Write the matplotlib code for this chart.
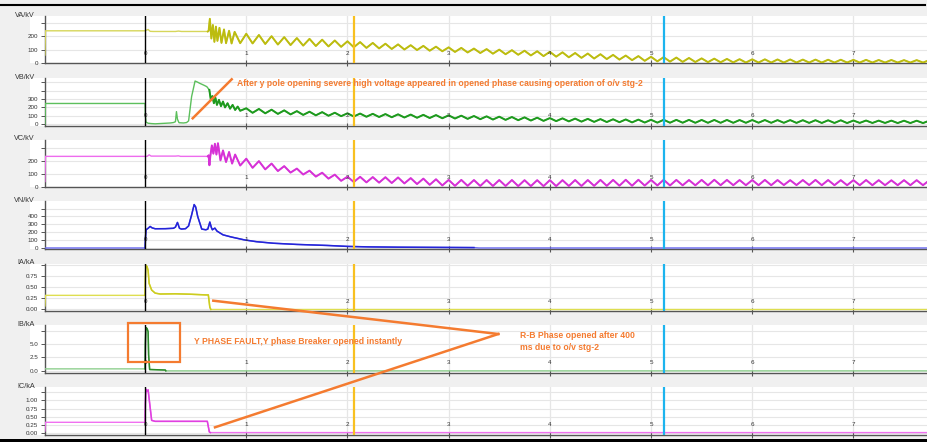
import numpy as np
import matplotlib
matplotlib.use("Agg")
import matplotlib.pyplot as plt
from matplotlib.lines import Line2D
from matplotlib.patches import Rectangle

plt.rcParams["font.family"] = ["Liberation Sans", "DejaVu Sans"]

W, H = 928, 442

# ---- data (time in the recorder's units) ----
# transient part: explicit samples
VA_T = [-0.99, -0.985, 0.0, 0.03, 0.05, 0.08, 0.30, 0.33, 0.36, 0.62, 0.628, 0.64, 0.655,
        0.67, 0.685, 0.70, 0.715, 0.735, 0.755, 0.78, 0.80, 0.83, 0.855, 0.885, 0.94]
VA_V = [60, 240, 240, 250, 236, 235, 235, 238, 235, 235, 240, 329, 183,
        283, 158, 271, 165, 262, 150, 250, 148, 240, 146, 232, 148]

VB_T = [-0.99, -0.985, 0.0, 0.003, 0.01, 0.03, 0.06, 0.10, 0.15, 0.20, 0.25, 0.28, 0.30,
        0.31, 0.32, 0.335, 0.38, 0.41, 0.43, 0.46, 0.494, 0.52, 0.54, 0.58, 0.61, 0.635,
        0.65, 0.665, 0.68, 0.695, 0.71, 0.73, 0.75, 0.77, 0.79, 0.815, 0.84, 0.865, 0.89,
        0.915, 0.94]
VB_V = [0, 247, 247, 100, 25, 12, 8, 5, 8, 10, 15, 20, 30,
        150, 60, 18, 15, 20, 40, 330, 514, 500, 487, 465, 447, 408,
        290, 335, 250, 315, 230, 290, 215, 270, 200, 250, 185, 230, 170,
        210, 160]

VC_T = [-0.99, -0.985, 0.0, 0.02, 0.04, 0.06, 0.30, 0.33, 0.35, 0.62, 0.628, 0.636, 0.645,
        0.66, 0.675, 0.69, 0.705, 0.72, 0.745, 0.77, 0.80, 0.83, 0.86, 0.89, 0.94]
VC_V = [40, 236, 236, 236, 248, 238, 238, 240, 236, 236, 244, 167, 240,
        321, 257, 334, 250, 338, 205, 282, 192, 270, 180, 250, 165]

# steady oscillation after t = 1: peaks every 0.125, troughs in between
TAIL_START, HALF = 1.0, 0.0625
VA_PK = [218, 209, 200, 193, 186, 180, 174, 168,
         162, 156, 150, 144, 139, 133, 128, 122,
         117, 113, 108, 104, 100, 96, 92, 88,
         84, 80, 75, 71, 66, 61, 56, 52,
         47, 44, 41, 38, 35, 33, 31, 29,
         28, 28, 27, 27, 26, 26, 25, 25,
         24, 24, 23, 23, 22, 22, 22]
VA_TR = [146, 142, 138, 134, 130, 127, 124, 121,
         118, 113, 109, 105, 101, 97, 92, 88,
         83, 79, 75, 70, 66, 62, 57, 52,
         48, 43, 39, 34, 30, 26, 22, 17,
         13, 11, 9, 8, 7, 6, 5, 4,
         4, 4, 4, 4, 4, 4, 4, 4,
         4, 4, 4, 4, 4, 4]
VB_PK = [190, 182, 173, 165, 156, 149, 144, 137,
         130, 127, 124, 121, 118, 115, 112, 109,
         106, 102, 98, 94, 90, 86, 82, 78,
         73, 70, 67, 64, 61, 59, 57, 55,
         53, 53, 52, 52, 51, 51, 51, 50,
         50, 50, 49, 49, 48, 48, 47, 47,
         44, 44, 43, 43, 42, 42, 42]
VB_TR = [136, 130, 123, 117, 111, 106, 101, 96,
         92, 89, 86, 83, 80, 77, 74, 71,
         68, 64, 60, 56, 52, 48, 44, 40,
         37, 34, 31, 28, 26, 24, 22, 20,
         19, 18, 18, 17, 17, 17, 17, 17,
         18, 17, 17, 16, 16, 15, 15, 14,
         16, 15, 15, 14, 14, 14]
VC_PK = [218, 199, 180, 160, 141, 125, 109, 94,
         78, 77, 75, 74, 72, 67, 63, 58,
         53, 53, 52, 52, 52, 52, 51, 51,
         51, 51, 52, 52, 53, 53, 54, 54,
         53, 54, 53, 52, 53, 54, 53, 52,
         52, 53, 52, 51, 52, 53, 52, 51,
         51, 52, 51, 50, 51, 51, 50]
VC_TR = [147, 135, 122, 110, 95, 79, 63, 46,
         37, 34, 32, 29, 26, 21, 15, 10,
         7, 7, 6, 6, 6, 5, 5, 5,
         5, 6, 6, 7, 7, 8, 8, 9,
         10, 10, 11, 11, 11, 12, 12, 12,
         12, 12, 13, 13, 13, 12, 12, 12,
         12, 12, 12, 12, 12, 12]

VN_T = [-0.99, 0.0, 0.005, 0.01, 0.03, 0.05, 0.07, 0.10, 0.20, 0.28, 0.30, 0.32, 0.34,
        0.36, 0.40, 0.43, 0.46, 0.485, 0.50, 0.52, 0.545, 0.56, 0.60, 0.62, 0.64, 0.655,
        0.665, 0.675, 0.69, 0.71, 0.77, 0.85, 0.98, 1.1, 1.27, 1.5, 1.8, 2.0, 2.2, 2.5,
        2.8, 3.1, 3.25, 3.3, 7.74]
VN_V = [0, 0, 150, 231, 250, 273, 255, 244, 245, 250, 265, 324, 250,
        240, 245, 280, 420, 551, 520, 400, 300, 240, 231, 240, 329, 260,
        231, 240, 252, 215, 167, 140, 103, 80, 60, 45, 32, 20, 14, 10,
        8, 6, 5, 0, 0]

IA_T = [-0.99, -0.985, 0.0, 0.003, 0.008, 0.02, 0.03, 0.04, 0.065, 0.10, 0.15, 0.30,
        0.45, 0.60, 0.625, 0.64, 0.65, 7.74]
IA_V = [0.08, 0.32, 0.32, 0.70, 1.00, 0.97, 0.88, 0.59, 0.44, 0.37, 0.35, 0.355,
        0.345, 0.33, 0.33, 0.05, 0.0, 0.0]

IB_T = [-0.99, 0.0, 0.003, 0.008, 0.02, 0.025, 0.03, 0.035, 0.045, 0.20, 0.205, 7.74]
IB_V = [0.37, 0.37, 5.0, 8.1, 7.9, 7.6, 7.3, 3.0, 0.25, 0.15, 0.0, 0.0]

IC_T = [-0.99, -0.985, 0.0, 0.003, 0.008, 0.015, 0.03, 0.045, 0.065, 0.10, 0.30, 0.60,
        0.615, 0.635, 0.645, 7.74]
IC_V = [0.05, 0.32, 0.32, 0.90, 1.35, 1.28, 1.33, 0.92, 0.38, 0.35, 0.35, 0.35,
        0.35, 0.02, 0.0, 0.0]

CURSOR_1, CURSOR_2 = 2.065, 5.13

NAMES = ["VA/kV", "VB/kV", "VC/kV", "VN/kV", "IA/kA", "IB/kA", "IC/kA"]
YTICKS = [[0, 100, 200, 300], [0, 100, 200, 300, 400, 500], [0, 100, 200, 300],
          [0, 100, 200, 300, 400, 500], [0, 0.25, 0.5, 0.75, 1.0], [0, 2.5, 5.0, 7.5],
          [0, 0.25, 0.5, 0.75, 1.0, 1.25]]
YLABELS = [["0", "100", "200", ""], ["0", "100", "200", "300", "", ""],
           ["0", "100", "200", ""], ["0", "100", "200", "300", "400", ""],
           ["0.00", "0.25", "0.50", "0.75", ""], ["0.0", "2.5", "5.0", ""],
           ["0.00", "0.25", "0.50", "0.75", "1.00", ""]]
YLIMS = [(-3, 350), (-15, 550), (-2, 367), (-13, 590), (-0.034, 1.04), (-0.31, 8.57),
         (-0.06, 1.42)]


def with_tail(t, v, pk, tr):
    n = len(pk) + len(tr)
    tt = TAIL_START + HALF * np.arange(n)
    vv = np.empty(n)
    vv[0::2] = pk
    vv[1::2] = tr
    return np.concatenate([t, tt]), np.concatenate([v, vv])


va = with_tail(VA_T, VA_V, VA_PK, VA_TR)
vb = with_tail(VB_T, VB_V, VB_PK, VB_TR)
vc = with_tail(VC_T, VC_V, VC_PK, VC_TR)
vn = (np.array(VN_T), np.array(VN_V))
ia = (np.array(IA_T), np.array(IA_V))
ib = (np.array(IB_T), np.array(IB_V))
ic = (np.array(IC_T), np.array(IC_V))

# (data, light colour, dark colour, start of dark part, end of dark part)
series = [(va, "#d6d65a", "#bcbc10", 0.62, 9),
          (vb, "#5cbf5c", "#1e9a1e", 0.62, 9),
          (vc, "#ee6cee", "#d632d6", 0.62, 9),
          (vn, "#6a6af0", "#2424d8", 0.0, 3.28),
          (ia, "#dede50", "#cccc20", 0.0, 0.66),
          (ib, "#8fd08f", "#2b8a2b", 0.0, 0.21),
          (ic, "#f070f0", "#e040e0", 0.0, 0.66)]

fig = plt.figure(figsize=(W / 100, H / 100), dpi=100, facecolor="#f0f0f0")

LEFT = 45
TOPS = [16, 78, 139.5, 201.5, 263.5, 325, 387]
PH = 47.5

for i, ((t, v), c_light, c_dark, d0, d1) in enumerate(series):
    top = TOPS[i]
    fig.patches.append(Rectangle((30 / W, 1 - (top + PH) / H), (W - 30) / W, PH / H,
                                 transform=fig.transFigure, fc="white", ec="none",
                                 zorder=-10))
    ax = fig.add_axes([LEFT / W, 1 - (top + PH) / H, (W - LEFT) / W, PH / H])
    ax.set_facecolor("white")
    ax.set_xlim(-0.989, 7.737)
    ax.set_ylim(*YLIMS[i])

    ax.plot(t, v, color=c_light, lw=1.0, zorder=3)
    idx = np.where((t >= d0) & (t <= d1))[0]
    sl = slice(idx[0], idx[-1] + 1)
    ax.plot(t[sl], v[sl], color=c_dark, lw=1.4 if i < 3 else 1.1, zorder=3)

    # grid and time marks
    for y in YTICKS[i]:
        ax.axhline(y, color="#e6e6e6", lw=0.8, zorder=0)
    for k in range(1, 8):
        ax.axvline(k, color="#e6e6e6", lw=0.9, zorder=0)
        ax.text(k, 0.21, str(k), transform=ax.get_xaxis_transform(), ha="center",
                va="center", fontsize=4.5, color="#333333")
    ax.text(0, 0.21, "0", transform=ax.get_xaxis_transform(), ha="center",
            va="center", fontsize=4.5, color="#333333")
    ax.axvline(0, color="black", lw=1.0, zorder=4)
    ax.axvline(CURSOR_1, color="#f8c020", lw=1.6, zorder=5)
    ax.axvline(CURSOR_2, color="#1cb4ee", lw=1.6, zorder=5)

    ax.set_xticks(range(1, 8))
    ax.set_xticklabels([])
    ax.tick_params(axis="x", direction="inout", length=5, width=0.8, color="#555555")
    ax.set_yticks(YTICKS[i])
    ax.set_yticklabels(YLABELS[i])
    ax.tick_params(axis="y", direction="out", length=3, width=0.7, color="#555555",
                   labelsize=4.5, labelcolor="#333333", pad=2)
    for s in ("top", "right"):
        ax.spines[s].set_visible(False)
    for s in ("left", "bottom"):
        ax.spines[s].set_color("#555555")
        ax.spines[s].set_linewidth(1.0)
        ax.spines[s].set_zorder(2)

    fig.text(35 / W, 1 - (top - 0.5) / H, NAMES[i], ha="right", va="center",
             fontsize=5.2, color="#333333")


def px(x, y):
    return x / W, 1 - y / H


ORANGE = "#f47b30"
fig.add_artist(Line2D([0, 925 / W], [1 - 5 / H] * 2, color="black", lw=1.5))
fig.patches.append(Rectangle((0, 0), 1, 3 / H, transform=fig.transFigure,
                             fc="black", ec="none"))

for (x0, y0), (x1, y1) in [((192.7, 118.3), (231.7, 79.3)),
                           ((213.3, 300.7), (498.3, 334)),
                           ((215, 427.3), (498.3, 334))]:
    a, b = px(x0, y0)
    c, d = px(x1, y1)
    fig.add_artist(Line2D([a, c], [b, d], color=ORANGE, lw=1.8, zorder=10))

rx, ry = px(127.7, 361.7)
fig.add_artist(Rectangle((rx, ry), (180 - 127.7) / W, (361.7 - 322.7) / H,
                         transform=fig.transFigure, fc="none", ec=ORANGE, lw=1.6,
                         zorder=10))

tx = dict(color=ORANGE, fontsize=6.2, fontweight="bold", ha="left", va="center",
          zorder=11)
fig.text(*px(237, 83.3), "After y pole opening severe high voltage appeared in opened "
         "phase causing operation of o/v stg-2", **tx)
fig.text(*px(194, 341), "Y PHASE FAULT,Y phase Breaker opened instantly", **tx)
fig.text(*px(520, 341.5), "R-B Phase opened after 400\nms due to o/v stg-2",
         linespacing=1.35, **tx)

fig.savefig("out.png", dpi=100, facecolor=fig.get_facecolor())
